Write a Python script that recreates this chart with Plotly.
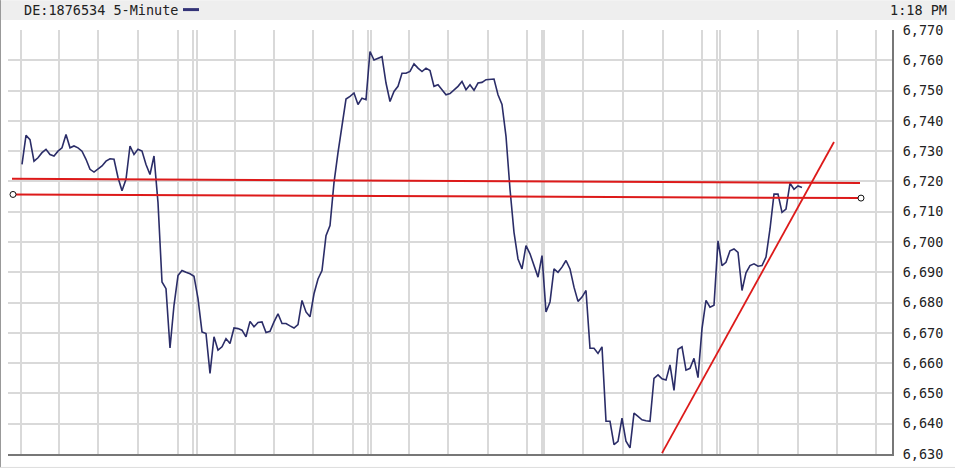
import plotly.graph_objects as go

# ---------------- data (5-minute closes) ----------------
price = [
    6725.6, 6735.2, 6733.8, 6726.7, 6727.8, 6729.5, 6730.6, 6728.9, 6728.4, 6730.0,
    6731.1, 6735.5, 6731.1, 6731.7, 6731.1, 6730.0, 6727.3, 6724.0, 6723.1, 6724.0,
    6725.1, 6726.7, 6727.5, 6727.3, 6721.3, 6716.9, 6720.7, 6731.7, 6728.9, 6730.6,
    6730.0, 6725.6, 6722.3, 6728.4, 6713.0, 6686.8, 6684.6, 6665.0, 6679.1, 6688.9,
    6690.6, 6690.0, 6689.5, 6688.7, 6681.3, 6670.3, 6669.8, 6656.6, 6668.7, 6664.3,
    6665.4, 6668.1, 6666.5, 6671.6, 6671.4, 6670.9, 6668.7, 6673.8, 6672.0, 6673.4,
    6673.6, 6670.1, 6670.5, 6673.6, 6676.3, 6673.1, 6673.1, 6672.3, 6671.6, 6672.7,
    6680.7, 6676.9, 6675.3, 6682.9, 6687.8, 6690.6, 6702.1, 6705.4, 6719.6, 6729.5,
    6739.0, 6747.2, 6748.1, 6749.2, 6745.4, 6747.5, 6747.0, 6762.9, 6760.1, 6760.7,
    6761.2, 6752.5, 6746.4, 6749.7, 6751.4, 6755.7, 6755.7, 6756.3, 6758.8, 6757.4,
    6756.3, 6757.4, 6756.6, 6751.4, 6751.9, 6750.3, 6748.6, 6749.0, 6750.1, 6751.4,
    6753.0, 6750.3, 6751.9, 6750.1, 6752.5, 6752.7, 6753.6, 6753.6, 6753.8, 6748.6,
    6745.4, 6734.9, 6717.4, 6703.2, 6694.4, 6691.1, 6698.8, 6696.1, 6692.2, 6688.4,
    6695.5, 6676.9, 6680.2, 6691.1, 6690.0, 6691.7, 6693.9, 6691.1, 6685.1, 6680.4,
    6681.8, 6684.0, 6664.9, 6664.9, 6663.2, 6665.4, 6640.8, 6640.8, 6633.1, 6634.2,
    6641.8, 6634.2, 6632.0, 6643.5, 6642.4, 6641.3, 6641.0, 6640.8, 6655.0, 6656.1,
    6654.8, 6654.4, 6659.4, 6651.0, 6664.6, 6665.4, 6657.7, 6658.3, 6661.6, 6655.2,
    6671.4, 6680.7, 6678.5, 6679.1, 6700.4, 6692.2, 6693.3, 6697.1, 6697.7, 6696.6,
    6684.0, 6689.8, 6692.2, 6692.8, 6692.0, 6692.2, 6695.0, 6704.3, 6715.8, 6715.8,
    6709.8, 6710.9, 6719.4, 6717.4, 6718.5, 6718.0,
]
bars = list(range(len(price)))

# vertical grid positions (in bar units), including the doubled session lines
grid_x = [-0.25, 9.33, 19.08, 29.08, 38.9, 42.8, 43.7, 53.25, 63.0, 72.8, 82.7,
          86.6, 87.25, 96.75, 106.6, 116.6, 126.2, 129.9, 130.6, 140.2, 150.2,
          160.2, 170.1, 173.8, 174.5, 184.1, 193.9, 203.7, 213.5]
y_ticks = list(range(6630, 6771, 10))

# drawn trend lines (bar, price)
upper_line_x = [-2.5, 209.5]
upper_line_y = [6720.9, 6719.5]
lower_line_x = [-2.25, 209.75]
lower_line_y = [6715.7, 6714.5]
trend_line_x = [160.0, 203.0]
trend_line_y = [6630.3, 6733.0]

title_text = "DE:1876534 5-Minute"
time_text = "1:18 PM"

# ---------------- style ----------------
LINE = "#2b2d68"
RED = "#dd1a1a"
GRID = "#d9d9d9"
AXIS = "#777777"
FONT = "DejaVu Sans Mono"

W, H = 955, 470
ML, MR, MT, MB = 8, 63, 30, 14
X_RANGE = [-3.5, 217.5]


def px_x(px):
    return (px - ML) / (W - ML - MR)


def px_y(py):
    return (H - MB - py) / (H - MT - MB)


fig = go.Figure()
fig.add_trace(go.Scatter(x=bars, y=price, mode="lines",
                         line=dict(color=LINE, width=1.6), hoverinfo="skip"))
fig.add_trace(go.Scatter(x=upper_line_x, y=upper_line_y, mode="lines",
                         line=dict(color=RED, width=2), hoverinfo="skip"))
fig.add_trace(go.Scatter(x=lower_line_x, y=lower_line_y, mode="lines",
                         line=dict(color=RED, width=2), hoverinfo="skip"))
fig.add_trace(go.Scatter(x=trend_line_x, y=trend_line_y, mode="lines",
                         line=dict(color=RED, width=1.8), hoverinfo="skip"))
fig.add_trace(go.Scatter(x=lower_line_x, y=lower_line_y, mode="markers",
                         marker=dict(size=6, color="white",
                                     line=dict(color="#111111", width=1)),
                         cliponaxis=False, hoverinfo="skip"))

shapes = [
    # mask the grid left of the first vertical gridline
    dict(type="rect", xref="x", yref="paper", x0=X_RANGE[0], x1=-0.6, y0=0, y1=1,
         fillcolor="white", line=dict(width=0), layer="between"),
    # header band
    dict(type="rect", xref="paper", yref="paper", x0=px_x(0), x1=px_x(W),
         y0=px_y(20), y1=px_y(0), fillcolor="#eeeeee", line=dict(width=0),
         layer="below"),
    # legend swatch
    dict(type="rect", xref="paper", yref="paper", x0=px_x(183), x1=px_x(199),
         y0=px_y(11), y1=px_y(8), fillcolor="#333377", line=dict(width=0)),
    # outer frame left / bottom
    dict(type="line", xref="paper", yref="paper", x0=px_x(0.5), x1=px_x(0.5),
         y0=px_y(H), y1=px_y(0), line=dict(color="#999999", width=1)),
    dict(type="line", xref="paper", yref="paper", x0=px_x(0), x1=px_x(W),
         y0=px_y(469.5), y1=px_y(469.5), line=dict(color="#dddddd", width=1)),
]

annotations = [
    dict(text=title_text, xref="paper", yref="paper", x=px_x(22), y=px_y(10),
         xanchor="left", yanchor="middle", showarrow=False,
         font=dict(family=FONT, size=13.5, color="#222222")),
    dict(text=time_text, xref="paper", yref="paper", x=px_x(949), y=px_y(10),
         xanchor="right", yanchor="middle", showarrow=False,
         font=dict(family=FONT, size=13.5, color="#222222")),
]

fig.update_layout(
    width=W, height=H,
    margin=dict(l=ML, r=MR, t=MT, b=MB, pad=0),
    paper_bgcolor="white", plot_bgcolor="white",
    showlegend=False,
    shapes=shapes, annotations=annotations,
    xaxis=dict(range=X_RANGE, tickvals=grid_x, showticklabels=False, ticks="",
               showgrid=True, gridcolor=GRID, gridwidth=2, zeroline=False,
               showline=True, linecolor=AXIS, linewidth=2, fixedrange=True),
    yaxis=dict(side="right", range=[6630, 6770], tickvals=y_ticks,
               tickformat=",d", showgrid=True, gridcolor=GRID, gridwidth=2,
               zeroline=False, showline=True, linecolor=AXIS, linewidth=2,
               ticks="outside", ticklen=6, tickcolor="rgba(0,0,0,0)",
               tickfont=dict(family=FONT, size=13.5, color="#222222"),
               fixedrange=True),
)

fig.write_html(
    "out.html",
    config={"displayModeBar": False},
    post_script="document.body.style.margin='0px';document.body.style.padding='0px';document.body.style.overflow='hidden';",
)
